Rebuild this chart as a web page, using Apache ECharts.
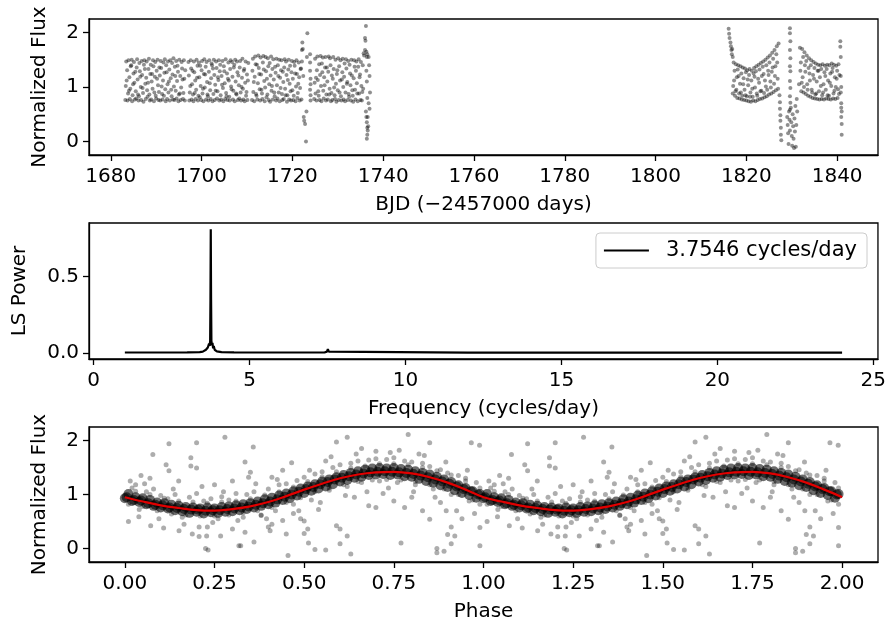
<!DOCTYPE html>
<html><head><meta charset="utf-8">
<script src="https://cdn.jsdelivr.net/npm/echarts@6/dist/echarts.min.js"></script>
<style>html,body{margin:0;padding:0;background:#fff}#c{width:889px;height:624px}</style>
</head><body><div id="c"></div>
<script>
// ---------- Tick labels ----------
const bjdTicks = [1680,1700,1720,1740,1760,1780,1800,1820,1840];
const fluxTicks = [0,1,2];
const freqTicks = [0,5,10,15,20,25];
const powerTicks = [0,0.5];
const phaseTicks = [0,0.25,0.5,0.75,1,1.25,1.5,1.75,2];

// ---------- Panel 1: light curve [BJD-2457000, normalized flux] ----------
const lcSegA = [[1683.2,0.76],[1683.4,1.47],[1683.5,1.12],[1683.7,0.75],[1683.9,1.49],[1684.0,0.93],[1684.2,0.78],[1684.4,1.38],[1684.6,1.50],[1684.7,0.74],[1684.9,1.05],[1685.1,1.46],[1685.3,0.77],[1685.4,1.28],[1685.6,0.79],[1685.8,1.51],[1686.0,0.86],[1686.1,0.75],[1686.3,1.44],[1686.5,1.19],[1686.7,0.76],[1686.8,1.48],[1687.0,0.98],[1687.2,0.73],[1687.4,1.49],[1687.5,1.33],[1687.7,0.78],[1687.9,1.47],[1688.1,0.82],[1688.2,1.08],[1688.4,1.52],[1688.6,0.75],[1688.8,1.41],[1688.9,0.77],[1689.1,1.24],[1689.3,1.49],[1689.5,0.74],[1689.6,0.90],[1689.8,1.46],[1690.0,0.79],[1690.2,1.15],[1690.3,1.50],[1690.5,0.76],[1690.7,1.36],[1690.9,0.75],[1691.0,1.48],[1691.2,1.01],[1691.4,0.77],[1691.6,1.45],[1691.7,0.84],[1691.9,1.51],[1692.1,0.74],[1692.3,1.27],[1692.4,0.78],[1692.6,1.47],[1692.8,1.10],[1693.0,0.75],[1693.1,1.49],[1693.3,0.95],[1693.5,1.44],[1693.7,0.77],[1693.8,1.53],[1694.0,0.76],[1694.2,1.20],[1694.4,1.48],[1694.5,0.79],[1694.7,1.39],[1694.9,0.74],[1695.1,1.50],[1695.2,0.88],[1695.4,0.76],[1695.6,1.46],[1695.8,1.14],[1695.9,0.78],[1696.1,1.49],[1696.3,0.75],[1696.4,1.31]];
const lcMidA = [[1683.3,1.02],[1683.6,1.31],[1683.8,0.88],[1684.1,1.18],[1684.3,0.97],[1684.5,1.40],[1684.8,0.85],[1685.0,1.25],[1685.2,1.08],[1685.5,0.92],[1685.7,1.36],[1685.9,1.14],[1686.2,0.83],[1686.4,1.29],[1686.6,1.00],[1686.9,1.22],[1687.1,0.89],[1687.3,1.41],[1687.6,1.06],[1687.8,1.17],[1688.0,0.94],[1688.3,1.33],[1688.5,0.86],[1688.7,1.24],[1689.0,1.10],[1689.2,0.97],[1689.4,1.38],[1689.7,1.19],[1689.9,0.84],[1690.1,1.30],[1690.4,1.03],[1690.6,0.91],[1690.8,1.21],[1691.1,1.35],[1691.3,0.87],[1691.5,1.12],[1691.8,1.26],[1692.0,0.96],[1692.2,1.40],[1692.5,1.05],[1692.7,0.90],[1692.9,1.32],[1693.2,1.16],[1693.4,0.83],[1693.6,1.23],[1693.9,1.01],[1694.1,1.37],[1694.3,0.93],[1694.6,1.11],[1694.8,1.28],[1695.0,0.86],[1695.3,1.20],[1695.5,0.99],[1695.7,1.34],[1696.0,0.89],[1696.2,1.15]];
const lcSegB = [[1697.1,1.46],[1697.3,0.75],[1697.5,1.02],[1697.6,1.49],[1697.8,0.77],[1698.0,1.30],[1698.2,0.74],[1698.3,1.47],[1698.5,0.89],[1698.7,0.78],[1698.9,1.50],[1699.0,1.17],[1699.2,0.75],[1699.4,1.45],[1699.6,0.81],[1699.7,1.39],[1699.9,0.76],[1700.1,1.48],[1700.3,0.97],[1700.4,0.74],[1700.6,1.51],[1700.8,1.23],[1701.0,0.77],[1701.1,1.46],[1701.3,0.86],[1701.5,0.75],[1701.7,1.49],[1701.8,1.07],[1702.0,0.78],[1702.2,1.43],[1702.4,0.74],[1702.5,1.34],[1702.7,1.50],[1702.9,0.76],[1703.1,0.93],[1703.2,1.47],[1703.4,0.79],[1703.6,1.18],[1703.8,1.49],[1703.9,0.75],[1704.1,1.41],[1704.3,0.77],[1704.5,1.04],[1704.6,1.48],[1704.8,0.74],[1705.0,1.29],[1705.2,0.78],[1705.3,1.51],[1705.5,0.83],[1705.7,0.76],[1705.9,1.45],[1706.0,1.12],[1706.2,0.75],[1706.4,1.49],[1706.6,0.96],[1706.7,1.46],[1706.9,0.77],[1707.1,1.36],[1707.3,0.74],[1707.4,1.50],[1707.6,0.88],[1707.8,1.47],[1708.0,0.76],[1708.1,1.21],[1708.3,0.79],[1708.5,1.48],[1708.7,0.75],[1708.8,1.00],[1709.0,1.52],[1709.2,0.77],[1709.4,1.33],[1709.5,0.74],[1709.7,1.47],[1709.9,0.91],[1710.1,0.76],[1710.3,1.44]];
const lcMidB = [[1697.2,1.21],[1697.4,0.90],[1697.7,1.34],[1697.9,1.05],[1698.1,0.86],[1698.4,1.27],[1698.6,1.12],[1698.8,0.95],[1699.1,1.39],[1699.3,0.84],[1699.5,1.18],[1699.8,1.02],[1700.0,1.31],[1700.2,0.88],[1700.5,1.24],[1700.7,0.99],[1700.9,1.37],[1701.2,1.09],[1701.4,0.83],[1701.6,1.28],[1701.9,0.94],[1702.1,1.16],[1702.3,1.40],[1702.6,0.87],[1702.8,1.22],[1703.0,1.04],[1703.3,1.35],[1703.5,0.92],[1703.7,1.13],[1704.0,1.29],[1704.2,0.85],[1704.4,1.20],[1704.7,0.98],[1704.9,1.38],[1705.1,1.07],[1705.4,0.89],[1705.6,1.25],[1705.8,1.15],[1706.1,0.82],[1706.3,1.33],[1706.5,1.01],[1706.8,1.19],[1707.0,0.93],[1707.2,1.41],[1707.5,1.10],[1707.7,0.86],[1707.9,1.27],[1708.2,1.03],[1708.4,1.36],[1708.6,0.90],[1708.9,1.17],[1709.1,0.97],[1709.3,1.30],[1709.6,1.08],[1709.8,0.84],[1710.0,1.23],[1710.2,1.12]];
const lcSegC = [[1711.1,0.76],[1711.3,1.52],[1711.5,1.09],[1711.6,0.74],[1711.8,1.56],[1712.0,0.87],[1712.2,1.41],[1712.3,0.77],[1712.5,1.58],[1712.7,1.24],[1712.9,0.75],[1713.0,1.54],[1713.2,0.95],[1713.4,0.78],[1713.6,1.57],[1713.7,1.32],[1713.9,0.74],[1714.1,1.55],[1714.3,0.81],[1714.4,1.15],[1714.6,1.53],[1714.8,0.76],[1715.0,1.44],[1715.1,0.73],[1715.3,1.56],[1715.5,1.02],[1715.7,0.77],[1715.8,1.51],[1716.0,0.90],[1716.2,1.37],[1716.4,0.75],[1716.5,1.52],[1716.7,0.79],[1716.9,1.20],[1717.1,1.50],[1717.2,0.74],[1717.4,0.98],[1717.6,1.49],[1717.8,0.76],[1717.9,1.28],[1718.1,0.78],[1718.3,1.51],[1718.5,0.85],[1718.6,1.47],[1718.8,0.73],[1719.0,1.13],[1719.2,1.50],[1719.3,0.77],[1719.5,1.39],[1719.7,0.75],[1719.9,1.48],[1720.0,0.94],[1720.2,0.76],[1720.4,1.46],[1720.6,1.25],[1720.7,0.74],[1720.9,1.49],[1721.1,0.80],[1721.3,1.06],[1721.4,1.45],[1721.6,0.75],[1721.8,1.33],[1722.0,0.77],[1722.1,1.47]];
const lcMidC = [[1711.2,1.30],[1711.4,0.91],[1711.7,1.19],[1711.9,1.42],[1712.1,0.84],[1712.4,1.07],[1712.6,1.35],[1712.8,0.96],[1713.1,1.23],[1713.3,0.88],[1713.5,1.45],[1713.8,1.11],[1714.0,0.99],[1714.2,1.29],[1714.5,0.86],[1714.7,1.38],[1714.9,1.05],[1715.2,1.21],[1715.4,0.93],[1715.6,1.33],[1715.9,1.14],[1716.1,0.83],[1716.3,1.26],[1716.6,1.03],[1716.8,1.40],[1717.0,0.90],[1717.3,1.17],[1717.5,1.31],[1717.7,0.87],[1718.0,1.09],[1718.2,1.36],[1718.4,0.97],[1718.7,1.22],[1718.9,0.85],[1719.1,1.32],[1719.4,1.06],[1719.6,0.92],[1719.8,1.27],[1720.1,1.15],[1720.3,0.84],[1720.5,1.39],[1720.8,1.01],[1721.0,1.24],[1721.2,0.89],[1721.5,1.18],[1721.7,0.98],[1721.9,1.34]];
const lcGap1 = [[1722.1,1.68],[1722.2,1.82],[1722.3,1.70],[1722.4,1.20],[1722.5,0.45],[1722.6,0.38],[1722.8,0.32],[1723.0,0.00],[1723.1,0.55],[1723.2,1.55],[1723.3,1.99],[1723.9,1.60],[1723.9,1.45],[1723.9,1.30],[1724.0,1.15],[1724.0,1.05],[1723.9,0.95],[1724.0,0.85],[1724.0,0.75]];
const lcSegD = [[1724.8,0.78],[1725.0,1.52],[1725.2,1.17],[1725.3,0.75],[1725.5,1.56],[1725.7,0.92],[1725.9,1.42],[1726.0,0.76],[1726.2,1.57],[1726.4,0.74],[1726.6,1.27],[1726.7,1.54],[1726.9,0.79],[1727.1,1.03],[1727.3,1.55],[1727.4,0.75],[1727.6,1.36],[1727.8,0.77],[1728.0,1.56],[1728.1,0.86],[1728.3,1.53],[1728.5,0.74],[1728.7,1.21],[1728.8,0.76],[1729.0,1.55],[1729.2,0.99],[1729.4,0.78],[1729.5,1.50],[1729.7,0.73],[1729.9,1.31],[1730.1,1.53],[1730.2,0.76],[1730.4,0.90],[1730.6,1.49],[1730.8,0.75],[1730.9,1.14],[1731.1,1.52],[1731.3,0.77],[1731.5,1.43],[1731.6,0.74],[1731.8,1.51],[1732.0,1.06],[1732.2,0.76],[1732.3,1.48],[1732.5,0.82],[1732.7,1.25],[1732.9,0.75],[1733.0,1.50],[1733.2,0.94],[1733.4,0.73],[1733.6,1.49],[1733.7,1.37],[1733.9,0.77],[1734.1,1.47],[1734.3,0.88],[1734.4,0.74],[1734.6,1.51],[1734.8,1.18],[1735.0,0.76],[1735.1,1.46],[1735.3,0.75],[1735.5,1.40],[1735.6,0.97]];
const lcMidD = [[1724.9,1.08],[1725.1,0.88],[1725.4,1.31],[1725.6,1.13],[1725.8,0.84],[1726.1,1.22],[1726.3,1.02],[1726.5,1.43],[1726.8,0.93],[1727.0,1.18],[1727.2,1.36],[1727.5,0.86],[1727.7,1.10],[1727.9,1.28],[1728.2,0.97],[1728.4,1.40],[1728.6,0.89],[1728.9,1.15],[1729.1,1.33],[1729.3,0.85],[1729.6,1.06],[1729.8,1.24],[1730.0,0.94],[1730.3,1.38],[1730.5,1.12],[1730.7,0.83],[1731.0,1.27],[1731.2,1.00],[1731.4,1.19],[1731.7,0.90],[1731.9,1.34],[1732.1,1.09],[1732.4,0.87],[1732.6,1.41],[1732.8,1.03],[1733.1,1.21],[1733.3,0.84],[1733.5,1.16],[1733.8,0.95],[1734.0,1.30],[1734.2,1.07],[1734.5,1.37],[1734.7,0.88],[1734.9,1.23],[1735.2,1.02],[1735.4,0.91]];
const lcGap2 = [[1735.7,1.62],[1735.8,1.58],[1736.0,1.68],[1736.1,1.85],[1736.0,1.90],[1736.2,2.12],[1736.3,1.65],[1736.4,1.55],[1736.5,1.60],[1736.3,1.30],[1736.4,1.10],[1736.5,0.80],[1736.2,0.55],[1736.3,0.45],[1736.4,0.35],[1736.5,0.25],[1736.6,0.20],[1736.5,0.12],[1736.4,0.05],[1736.7,0.28],[1736.6,0.45],[1736.8,1.55],[1736.9,1.40],[1737.0,1.20],[1737.1,0.90],[1736.8,0.70],[1737.0,0.60]];
const lcSegE = [[1816.1,2.07],[1816.2,1.98],[1816.3,1.90],[1816.5,1.82],[1816.6,1.75],[1816.7,1.68],[1816.8,1.60],[1816.9,1.70],[1817.0,1.55],[1817.0,0.88],[1817.2,1.45],[1817.3,1.12],[1817.5,0.84],[1817.7,1.42],[1817.8,0.95],[1818.0,0.80],[1818.2,1.40],[1818.3,1.20],[1818.5,0.79],[1818.7,1.38],[1818.8,0.90],[1819.0,0.77],[1819.2,1.36],[1819.3,1.05],[1819.5,0.76],[1819.7,1.34],[1819.8,0.85],[1820.0,0.75],[1820.2,1.31],[1820.3,1.14],[1820.5,0.74],[1820.7,1.33],[1820.8,0.82],[1821.0,0.73],[1821.2,1.30],[1821.3,0.97],[1821.5,0.75],[1821.7,1.35],[1821.8,1.19],[1822.0,0.74],[1822.2,1.38],[1822.3,0.88],[1822.5,0.76],[1822.7,1.41],[1822.8,1.08],[1823.0,0.78],[1823.2,1.44],[1823.3,0.93],[1823.5,0.79],[1823.7,1.47],[1823.8,1.24],[1824.0,0.81],[1824.2,1.50],[1824.3,1.01],[1824.5,0.83],[1824.7,1.54],[1824.8,1.30],[1825.0,0.86],[1825.2,1.58],[1825.3,1.10],[1825.5,0.88],[1825.7,1.63],[1825.8,1.36],[1826.0,0.91],[1826.2,1.68],[1826.3,1.20],[1826.5,0.94],[1826.7,1.75],[1826.8,1.45],[1827.0,0.97],[1827.1,1.80]];
const lcMidE = [[1817.1,1.02],[1817.4,1.30],[1817.6,0.92],[1817.9,1.18],[1818.1,1.32],[1818.4,0.88],[1818.6,1.06],[1818.9,1.25],[1819.1,0.84],[1819.4,1.16],[1819.6,0.95],[1819.9,1.27],[1820.1,0.83],[1820.4,1.03],[1820.6,1.22],[1820.9,0.90],[1821.1,1.12],[1821.4,0.82],[1821.6,1.25],[1821.9,0.99],[1822.1,1.29],[1822.4,0.84],[1822.6,1.15],[1822.9,1.32],[1823.1,0.92],[1823.4,1.20],[1823.6,1.37],[1823.9,0.89],[1824.1,1.12],[1824.4,1.40],[1824.6,0.95],[1824.9,1.22],[1825.1,1.45],[1825.4,0.99],[1825.6,1.28],[1825.9,1.52],[1826.1,1.06],[1826.4,1.38],[1826.6,1.60],[1826.9,1.15]];
const lcGap3 = [[1827.3,0.85],[1827.4,0.72],[1827.4,0.60],[1827.5,0.48],[1827.5,0.38],[1827.6,0.25],[1827.6,0.12],[1827.7,0.02],[1829.6,2.08],[1829.6,1.99],[1829.7,1.84],[1829.6,1.68],[1829.7,1.53],[1829.6,1.38],[1829.7,1.29],[1829.6,1.11],[1829.7,0.98],[1829.6,0.83],[1829.7,0.71],[1829.6,0.58],[1829.0,0.45],[1829.1,0.30],[1829.2,0.15],[1829.3,-0.05],[1829.4,0.55],[1829.5,0.40],[1829.6,0.20],[1829.8,0.62],[1829.9,0.35],[1830.0,0.10],[1830.1,-0.08],[1830.2,0.50],[1830.3,0.28],[1830.4,0.05],[1830.5,-0.12],[1830.6,0.42],[1830.7,0.18],[1830.8,0.65],[1830.9,-0.10],[1831.0,0.30],[1831.1,0.78],[1831.2,0.55]];
const lcSegF = [[1831.6,1.05],[1831.8,1.72],[1831.9,1.30],[1832.1,0.92],[1832.3,1.70],[1832.4,1.18],[1832.6,0.90],[1832.8,1.64],[1832.9,1.40],[1833.1,0.87],[1833.3,1.58],[1833.4,1.05],[1833.6,0.84],[1833.8,1.53],[1833.9,1.25],[1834.1,0.82],[1834.3,1.49],[1834.4,0.95],[1834.6,0.80],[1834.8,1.46],[1834.9,1.15],[1835.1,0.79],[1835.3,1.43],[1835.4,0.88],[1835.6,0.78],[1835.8,1.41],[1835.9,1.30],[1836.1,0.77],[1836.3,1.40],[1836.4,1.02],[1836.6,0.78],[1836.8,1.42],[1836.9,0.90],[1837.1,0.77],[1837.3,1.39],[1837.4,1.20],[1837.6,0.79],[1837.8,1.41],[1837.9,0.85],[1838.1,0.78],[1838.3,1.40],[1838.4,1.08],[1838.6,0.77],[1838.8,1.43],[1838.9,1.28],[1839.1,0.79],[1839.3,1.41],[1839.4,0.93],[1839.6,0.78],[1839.8,1.39],[1839.9,1.15],[1840.1,0.80],[1840.3,1.42],[1840.4,0.87],[1840.7,1.84],[1840.7,1.74],[1840.8,1.55],[1840.8,1.20],[1840.9,1.00],[1840.8,0.90],[1840.9,0.70],[1840.9,0.62],[1841.0,0.55],[1840.9,0.45],[1841.0,0.32],[1841.0,0.12]];
const lcMidF = [[1832.0,1.45],[1832.2,1.08],[1832.5,1.55],[1832.7,1.00],[1833.0,1.28],[1833.2,1.48],[1833.5,0.95],[1833.7,1.35],[1834.0,1.12],[1834.2,1.40],[1834.5,0.90],[1834.7,1.22],[1835.0,1.35],[1835.2,0.86],[1835.5,1.10],[1835.7,1.30],[1836.0,0.92],[1836.2,1.18],[1836.5,1.33],[1836.7,0.85],[1837.0,1.05],[1837.2,1.27],[1837.5,0.95],[1837.7,1.33],[1838.0,1.12],[1838.2,0.84],[1838.5,1.25],[1838.7,1.02],[1839.0,1.35],[1839.2,0.88],[1839.5,1.18],[1839.7,1.00],[1840.0,1.30],[1840.2,0.96],[1840.5,1.22]];

// ---------- Panel 2: Lomb-Scargle periodogram ----------
const lsFreq  = [1.0,2.0,3.0,3.4,3.5,3.55,3.6,3.63,3.66,3.68,3.70,3.72,3.735,3.745,3.7546,3.765,3.775,3.79,3.81,3.83,3.85,3.88,3.90,3.95,4.0,4.1,4.5,6.0,7.4,7.48,7.51,7.54,7.6,12.0,24.0];
const lsPower = [0.002,0.002,0.003,0.005,0.008,0.012,0.020,0.015,0.035,0.025,0.060,0.045,0.080,0.350,0.8125,0.350,0.080,0.050,0.065,0.030,0.045,0.020,0.025,0.010,0.012,0.005,0.003,0.002,0.002,0.008,0.025,0.008,0.002,0.001,0.001];
const lsLabel = '3.7546 cycles/day';

// ---------- Panel 3: phase-folded flux [phase, flux] (plotted at phase and phase+1) ----------
const phCore1 = [[0.00,0.93],[0.01,1.01],[0.02,0.88],[0.03,0.95],[0.04,0.86],[0.05,0.93],[0.06,0.82],[0.07,0.90],[0.08,0.79],[0.09,0.85],[0.10,0.76],[0.11,0.84],[0.12,0.74],[0.13,0.81],[0.14,0.71],[0.15,0.79],[0.16,0.69],[0.17,0.77],[0.18,0.66],[0.19,0.76],[0.20,0.68],[0.21,0.74],[0.22,0.65],[0.23,0.76],[0.24,0.67],[0.25,0.74],[0.26,0.66],[0.27,0.77],[0.28,0.68],[0.29,0.78],[0.30,0.69],[0.31,0.80],[0.32,0.71],[0.33,0.82],[0.34,0.73],[0.35,0.84],[0.36,0.76],[0.37,0.87],[0.38,0.79],[0.39,0.91],[0.40,0.82],[0.41,0.94],[0.42,0.85],[0.43,0.98],[0.44,0.90],[0.45,1.02],[0.46,0.93],[0.47,1.06],[0.48,0.98],[0.49,1.11],[0.50,1.03],[0.51,1.15],[0.52,1.07],[0.53,1.19],[0.54,1.11],[0.55,1.24],[0.56,1.15],[0.57,1.28],[0.58,1.19],[0.59,1.32],[0.60,1.24],[0.61,1.36],[0.62,1.27],[0.63,1.40],[0.64,1.31],[0.65,1.43],[0.66,1.33],[0.67,1.46],[0.68,1.36],[0.69,1.48],[0.70,1.37],[0.71,1.49],[0.72,1.38],[0.73,1.48],[0.74,1.36],[0.75,1.49],[0.76,1.37],[0.77,1.47],[0.78,1.34],[0.79,1.46],[0.80,1.33],[0.81,1.43],[0.82,1.29],[0.83,1.40],[0.84,1.25],[0.85,1.37],[0.86,1.22],[0.87,1.33],[0.88,1.17],[0.89,1.28],[0.90,1.14],[0.91,1.23],[0.92,1.08],[0.93,1.17],[0.94,1.03],[0.95,1.12],[0.96,0.99],[0.97,1.06],[0.98,0.94],[0.99,1.01]];
const phCore2 = [[0.005,0.95],[0.025,0.90],[0.045,0.89],[0.065,0.84],[0.085,0.81],[0.105,0.80],[0.125,0.76],[0.145,0.75],[0.165,0.73],[0.185,0.72],[0.205,0.72],[0.225,0.70],[0.245,0.71],[0.265,0.71],[0.285,0.73],[0.305,0.74],[0.325,0.76],[0.345,0.78],[0.365,0.81],[0.385,0.84],[0.405,0.87],[0.425,0.91],[0.445,0.96],[0.465,1.00],[0.485,1.05],[0.505,1.10],[0.525,1.14],[0.545,1.19],[0.565,1.23],[0.585,1.28],[0.605,1.31],[0.625,1.34],[0.645,1.37],[0.665,1.39],[0.685,1.41],[0.705,1.42],[0.725,1.43],[0.745,1.42],[0.765,1.41],[0.785,1.40],[0.805,1.38],[0.825,1.35],[0.845,1.32],[0.865,1.28],[0.885,1.24],[0.905,1.20],[0.925,1.15],[0.945,1.10],[0.965,1.06],[0.985,1.00]];
const phFuzz = [[0.02,1.12],[0.04,0.72],[0.06,1.05],[0.08,1.10],[0.10,0.98],[0.12,0.92],[0.14,1.00],[0.16,0.58],[0.18,0.95],[0.20,1.02],[0.22,0.88],[0.24,0.92],[0.26,0.55],[0.27,0.96],[0.29,0.90],[0.31,1.02],[0.33,0.58],[0.34,1.00],[0.36,1.05],[0.38,0.62],[0.40,1.10],[0.42,0.70],[0.43,1.18],[0.45,1.20],[0.47,0.82],[0.48,1.26],[0.50,1.32],[0.52,0.90],[0.53,1.38],[0.55,1.42],[0.57,1.08],[0.58,1.50],[0.60,1.55],[0.62,1.15],[0.63,1.58],[0.65,1.62],[0.66,1.22],[0.68,1.64],[0.70,1.66],[0.71,1.25],[0.73,1.65],[0.75,1.68],[0.76,1.22],[0.78,1.62],[0.80,1.60],[0.81,1.18],[0.83,1.58],[0.85,1.52],[0.86,1.10],[0.88,1.46],[0.90,1.40],[0.91,1.00],[0.93,1.35],[0.95,1.30],[0.96,0.88],[0.98,1.22],[0.99,0.82]];
const phFuzz2 = [[0.01,0.82],[0.03,1.06],[0.05,0.78],[0.07,1.00],[0.09,0.70],[0.11,0.93],[0.13,0.64],[0.15,0.88],[0.17,0.62],[0.19,0.86],[0.21,0.60],[0.23,0.84],[0.25,0.60],[0.27,0.86],[0.29,0.62],[0.31,0.88],[0.33,0.66],[0.35,0.92],[0.37,0.70],[0.39,0.99],[0.41,0.76],[0.43,1.05],[0.45,0.85],[0.47,1.14],[0.49,0.94],[0.51,1.24],[0.53,1.05],[0.55,1.33],[0.57,1.12],[0.59,1.42],[0.61,1.18],[0.63,1.49],[0.65,1.24],[0.67,1.53],[0.69,1.27],[0.71,1.57],[0.73,1.28],[0.75,1.57],[0.77,1.27],[0.79,1.55],[0.81,1.24],[0.83,1.50],[0.85,1.18],[0.87,1.44],[0.89,1.10],[0.91,1.36],[0.93,1.00],[0.95,1.25],[0.97,0.90],[0.99,1.12]];
const phOutliers = [[0.078,1.74],[0.123,1.94],[0.123,1.44],[0.184,1.68],[0.184,1.53],[0.200,1.96],[0.200,1.49],[0.279,2.06],[0.358,1.88],[0.010,0.50],[0.039,0.59],[0.072,0.42],[0.108,0.38],[0.151,0.33],[0.188,0.27],[0.207,0.40],[0.230,0.40],[0.207,0.22],[0.228,0.23],[0.225,0.00],[0.232,-0.03],[0.267,0.23],[0.300,0.36],[0.318,0.05],[0.323,0.05],[0.335,0.30],[0.360,0.12],[0.380,0.61],[0.400,0.40],[0.405,0.33],[0.410,0.45],[0.440,0.52],[0.450,0.27],[0.455,-0.13],[0.465,1.59],[0.490,0.55],[0.500,0.51],[0.500,0.28],[0.510,0.36],[0.512,0.10],[0.530,-0.02],[0.560,-0.03],[0.590,0.42],[0.600,0.36],[0.600,0.09],[0.590,1.97],[0.620,2.06],[0.630,-0.10],[0.620,0.23],[0.680,0.79],[0.700,0.76],[0.750,0.88],[0.770,0.10],[0.790,2.11],[0.780,0.76],[0.830,0.70],[0.850,1.96],[0.850,0.54],[0.870,0.00],[0.890,-0.05],[0.910,0.40],[0.966,1.96],[0.989,1.91],[0.896,0.70],[0.900,0.26],[0.920,0.23],[0.910,0.09],[0.870,-0.08],[0.990,0.05],[0.990,0.39],[0.940,0.55],[0.350,1.41],[0.345,1.32],[0.300,1.25],[0.410,1.32],[0.070,1.30],[0.055,1.20],[0.150,1.25],[0.250,1.18],[0.540,0.72],[0.640,0.95],[0.720,1.02],[0.800,0.95],[0.880,0.85],[0.030,1.18],[0.470,0.65],[0.660,1.85],[0.700,1.80],[0.740,1.78],[0.820,1.75],[0.560,1.62],[0.440,1.45],[0.015,1.25],[0.045,1.35],[0.095,0.55],[0.135,1.10],[0.165,0.45],[0.215,1.15],[0.245,0.48],[0.275,1.05],[0.315,0.52],[0.365,1.20],[0.395,0.55],[0.425,1.28],[0.485,0.70],[0.515,1.45],[0.545,0.85],[0.575,1.70],[0.615,0.98],[0.645,1.75],[0.675,1.05],[0.735,1.12],[0.765,1.82],[0.805,1.05],[0.835,1.72],[0.865,0.95],[0.895,1.60],[0.925,0.70],[0.955,1.45],[0.975,0.65],[0.115,1.55],[0.335,1.60]];
const fitPhase = [0.00,0.05,0.10,0.15,0.20,0.25,0.30,0.35,0.40,0.45,0.50,0.55,0.60,0.65,0.70,0.75,0.80,0.85,0.90,0.95,1.00];
const fitFlux  = [0.95,0.87,0.80,0.75,0.71,0.70,0.73,0.78,0.86,0.97,1.09,1.20,1.30,1.37,1.41,1.42,1.39,1.32,1.22,1.09,0.95];

// ---------- Build options ----------
const FONT = 'DejaVu Sans';
const TXT = '#000';
function xAx(gi, min, max, ticks, name, fmt) {
  return {
    type: 'value', gridIndex: gi, min: min, max: max,
    name: name, nameLocation: 'middle', nameGap: 40,
    nameTextStyle: {fontFamily: FONT, fontSize: 20, color: TXT},
    axisLine: {show: true, onZero: false, lineStyle: {color: '#000', width: 1.3}},
    axisTick: {show: true, length: 6, customValues: ticks, lineStyle: {color: '#000', width: 1.3}},
    axisLabel: {customValues: ticks, margin: 12, fontFamily: FONT, fontSize: 20, color: TXT, formatter: fmt},
    splitLine: {show: false}
  };
}
function yAx(gi, min, max, ticks, name, gap, fmt) {
  return {
    type: 'value', gridIndex: gi, min: min, max: max,
    name: name, nameLocation: 'middle', nameGap: gap,
    nameTextStyle: {fontFamily: FONT, fontSize: 20, color: TXT},
    axisLine: {show: true, onZero: false, lineStyle: {color: '#000', width: 1.3}},
    axisTick: {show: true, length: 6, customValues: ticks, lineStyle: {color: '#000', width: 1.3}},
    axisLabel: {customValues: ticks, margin: 10, fontFamily: FONT, fontSize: 20, color: TXT, formatter: fmt},
    splitLine: {show: false}
  };
}
const lcData = [].concat(lcSegA, lcMidA, lcSegB, lcMidB, lcSegC, lcMidC, lcGap1, lcSegD, lcMidD, lcGap2, lcSegE, lcMidE, lcGap3, lcSegF, lcMidF);
const lsData = lsFreq.map((f, i) => [f, lsPower[i]]);
const dup = arr => arr.concat(arr.map(p => [p[0] + 1, p[1]]));
const phBody = dup([].concat(phCore1, phCore2));
const phSpread = dup([].concat(phFuzz, phFuzz2, phOutliers));
const fitOne = fitPhase.map((p, i) => [p, fitFlux[i]]);
const fitData = fitOne.concat(fitOne.slice(1).map(p => [p[0] + 1, p[1]]));

const gridBase = {left: 89, right: 11, show: true, borderColor: '#000', borderWidth: 1.3, backgroundColor: 'transparent'};
const option = {
  animation: false,
  backgroundColor: '#fff',
  grid: [
    Object.assign({top: 19, height: 136}, gridBase),
    Object.assign({top: 223, height: 136}, gridBase),
    Object.assign({top: 427, height: 135}, gridBase)
  ],
  xAxis: [
    xAx(0, 1675.2, 1849, bjdTicks, 'BJD (\u22122457000 days)', v => String(v)),
    xAx(1, -0.15, 25.15, freqTicks, 'Frequency (cycles/day)', v => String(v)),
    xAx(2, -0.1, 2.1, phaseTicks, 'Phase', v => v.toFixed(2))
  ],
  yAxis: [
    yAx(0, -0.25, 2.25, fluxTicks, 'Normalized Flux', 39, v => String(v)),
    yAx(1, -0.0406, 0.853, powerTicks, 'LS Power', 59, v => v.toFixed(1)),
    yAx(2, -0.25, 2.25, fluxTicks, 'Normalized Flux', 39, v => String(v))
  ],
  legend: {
    data: [lsLabel], right: 22, top: 233, icon: 'rect', itemWidth: 45, itemHeight: 2,
    padding: [7, 10, 7, 8], borderColor: '#cccccc', borderWidth: 1, borderRadius: 4,
    backgroundColor: 'rgba(255,255,255,0.8)',
    textStyle: {fontFamily: FONT, fontSize: 21, color: TXT, padding: [0, 0, 0, 12]}
  },
  series: [
    {type: 'scatter', xAxisIndex: 0, yAxisIndex: 0, data: lcData, symbolSize: 4,
     itemStyle: {color: 'rgba(0,0,0,0.55)'}, silent: true},
    {type: 'line', name: lsLabel, xAxisIndex: 1, yAxisIndex: 1, data: lsData, showSymbol: false,
     lineStyle: {color: '#000', width: 2.2}, itemStyle: {color: '#000'}, silent: true},
    {type: 'scatter', xAxisIndex: 2, yAxisIndex: 2, data: phSpread, symbolSize: 5,
     itemStyle: {color: 'rgba(0,0,0,0.4)'}, silent: true},
    {type: 'scatter', xAxisIndex: 2, yAxisIndex: 2, data: phBody, symbolSize: 10,
     itemStyle: {color: 'rgba(0,0,0,0.72)'}, silent: true},
    {type: 'line', xAxisIndex: 2, yAxisIndex: 2, data: fitData, showSymbol: false, smooth: 0.4,
     lineStyle: {color: '#e00000', width: 2.2}, z: 5, silent: true}
  ]
};
const chart = echarts.init(document.getElementById('c'), null, {renderer: 'canvas'});
chart.setOption(option);
</script></body></html>
